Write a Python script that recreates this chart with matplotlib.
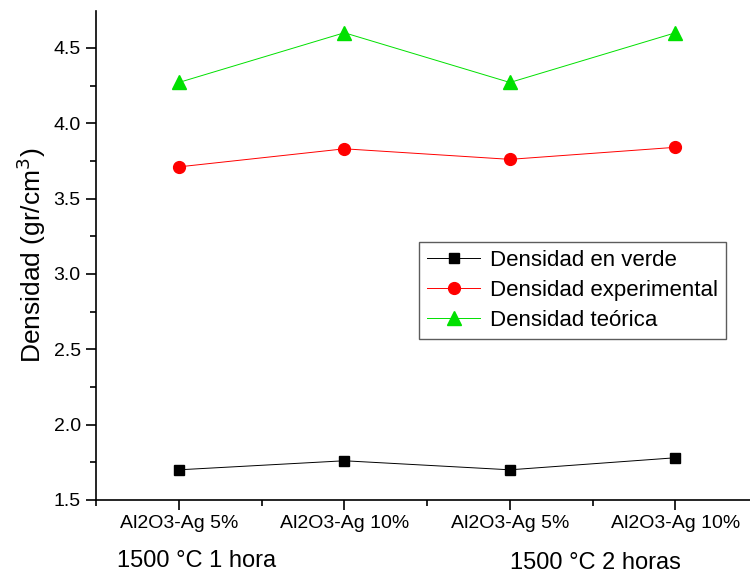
import matplotlib.pyplot as plt
from matplotlib.ticker import MultipleLocator, FixedLocator

plt.rcParams['font.family'] = ['Liberation Sans', 'DejaVu Sans']

# Datos
muestras = ['Al2O3-Ag 5%', 'Al2O3-Ag 10%', 'Al2O3-Ag 5%', 'Al2O3-Ag 10%']
posiciones = [1, 2, 3, 4]
dens_verde = [1.70, 1.76, 1.70, 1.78]
dens_experimental = [3.71, 3.83, 3.76, 3.84]
dens_teorica = [4.27, 4.60, 4.27, 4.60]

fig = plt.figure(figsize=(7.5, 5.74), dpi=100)
ax = fig.add_axes([0.128, 0.129, 0.872, 0.852])

ax.plot(posiciones, dens_verde, color='black', lw=0.7, marker='s', ms=7,
        label='Densidad en verde')
ax.plot(posiciones, dens_experimental, color='red', lw=0.7, marker='o', ms=8.5,
        label='Densidad experimental')
ax.plot(posiciones, dens_teorica, color='#00e000', lw=0.7, marker='^', ms=9.5,
        label='Densidad teórica')

ax.set_xlim(0.5, 4.45)
ax.set_ylim(1.5, 4.745)

ax.set_xticks(posiciones)
ax.set_xticklabels(muestras, fontsize=14)
ax.xaxis.set_minor_locator(FixedLocator([0.5, 1.5, 2.5, 3.5]))
ax.yaxis.set_major_locator(MultipleLocator(0.5))
ax.yaxis.set_minor_locator(MultipleLocator(0.25))
ax.tick_params(axis='y', labelsize=14)
ax.tick_params(which='major', direction='out', length=7, width=1.2, pad=4)
ax.tick_params(which='minor', direction='out', length=4.5, width=1.2)

for lado in ['top', 'right']:
    ax.spines[lado].set_visible(False)
for lado in ['left', 'bottom']:
    ax.spines[lado].set_linewidth(1.2)

ax.set_ylabel('Densidad (gr/cm$^3$)', fontsize=19, labelpad=4)

# Condiciones de sinterizado bajo cada par de muestras
fig.text(0.156, 0.0115, '1500 °C 1 hora', fontsize=17)
fig.text(0.68, 0.0085, '1500 °C 2 horas', fontsize=17)

leg = ax.legend(loc='upper left', bbox_to_anchor=(0.494, 0.528), fontsize=16,
                frameon=True, fancybox=False, edgecolor='#333333',
                handlelength=2.4, borderpad=0.35, labelspacing=0.42,
                handletextpad=0.45, borderaxespad=0)
leg.get_frame().set_linewidth(1.0)

fig.savefig('out.png', dpi=100)
